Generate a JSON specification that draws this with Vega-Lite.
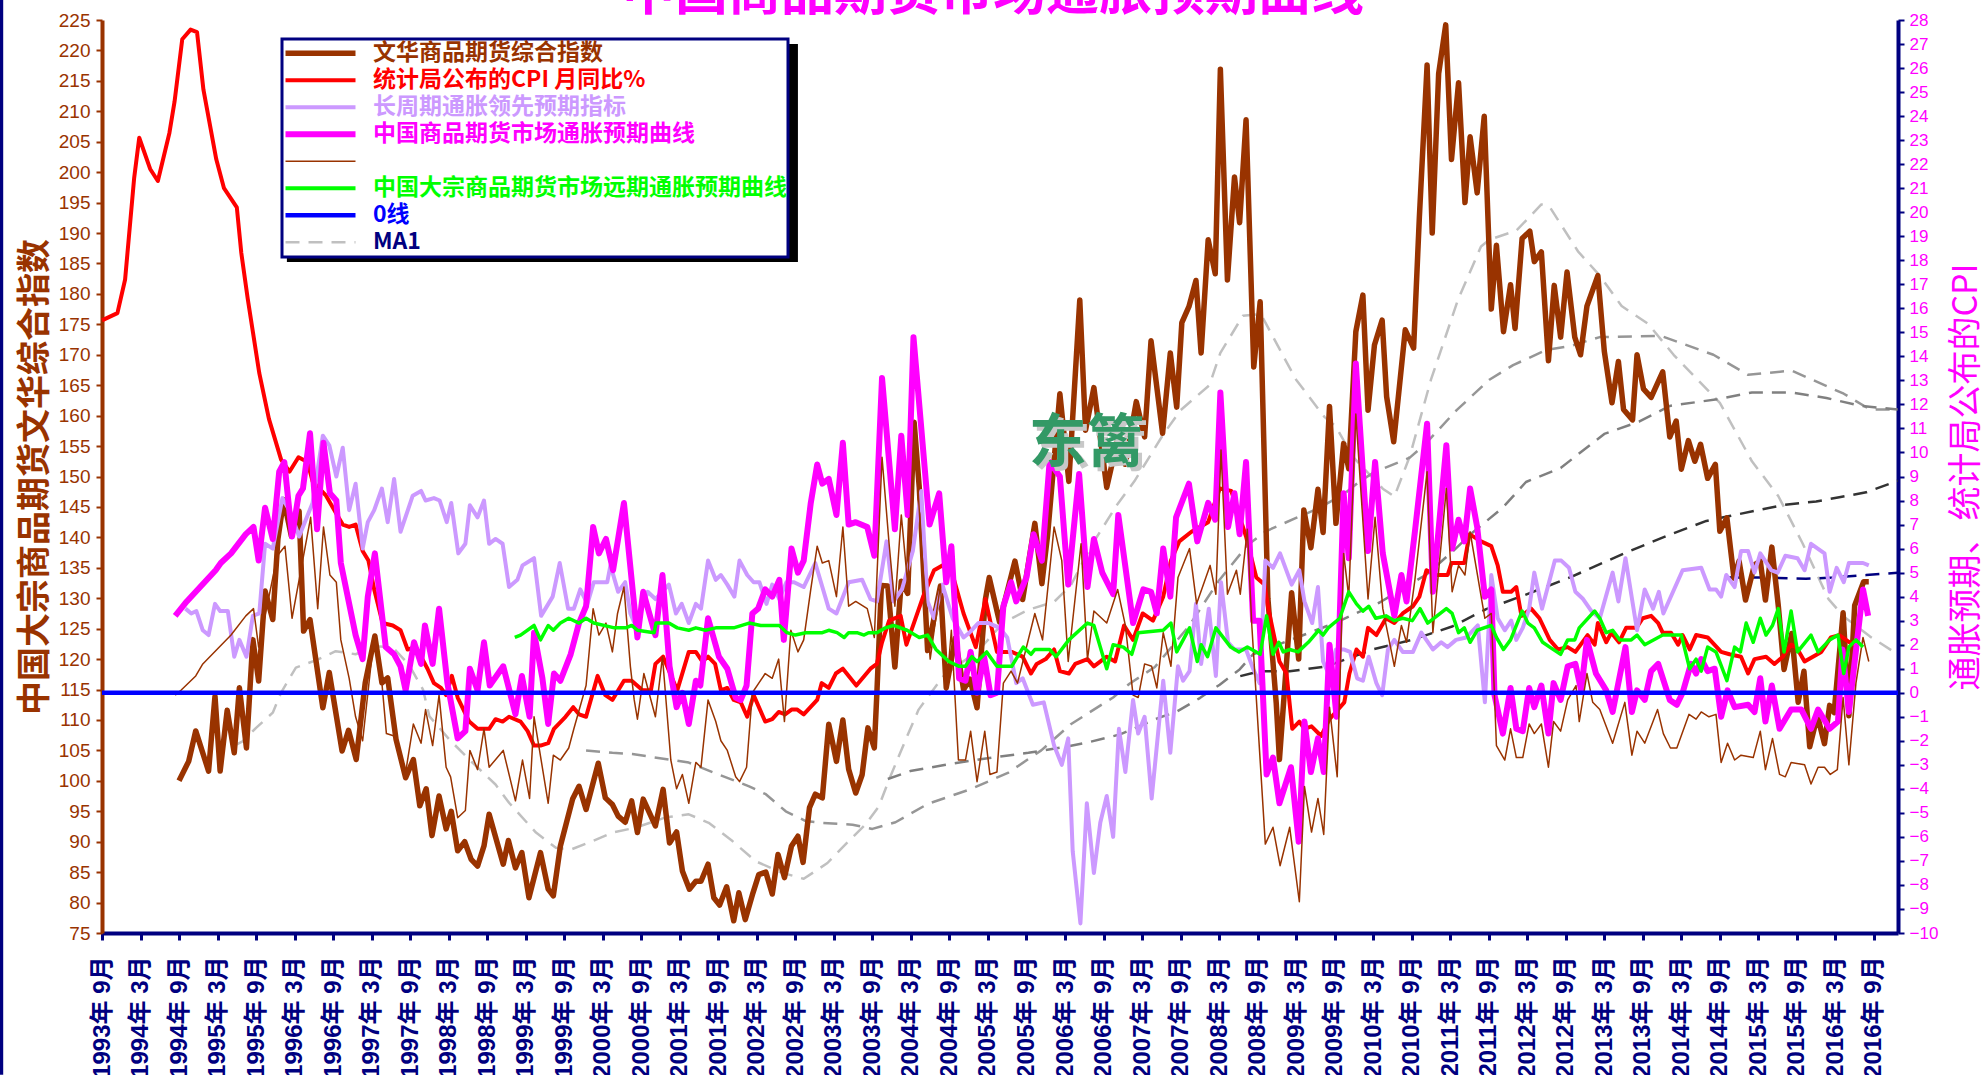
{"$schema":"https://vega.github.io/schema/vega-lite/v6.json","width":1796,"height":913,"autosize":{"type":"none"},"padding":{"left":102,"top":20,"right":85,"bottom":142},"background":"white","config":{"view":{"stroke":null},"legend":{"zindex":2},"line":{"strokeJoin":"round"}},"resolve":{"scale":{"y":"independent"}},"encoding":{"x":{"field":"m","type":"quantitative","scale":{"domain":[0,279.75],"nice":false,"zero":false},"axis":{"values":[0,6,12,18,24,30,36,42,48,54,60,66,72,78,84,90,96,102,108,114,120,126,132,138,144,150,156,162,168,174,180,186,192,198,204,210,216,222,228,234,240,246,252,258,264,270,276],"labelExpr":"(1993+floor((datum.value+6)/12))+'年 '+((datum.value%12==0)?'9':'3')+'月'","labelAngle":270,"labelAlign":"right","labelBaseline":"middle","labelFont":"Liberation Sans, Noto Sans CJK SC","labelFontWeight":"bold","labelFontSize":24,"labelColor":"#000080","labelPadding":16,"labelOverlap":false,"labelBound":false,"labelFlush":false,"title":null,"grid":false,"domainColor":"#000080","domainWidth":4,"tickColor":"#000080","tickWidth":3,"tickSize":7}}},"layer":[{"encoding":{"y":{"field":"v","type":"quantitative","scale":{"domain":[75,225],"nice":false,"zero":false},"axis":{"orient":"left","values":[75,80,85,90,95,100,105,110,115,120,125,130,135,140,145,150,155,160,165,170,175,180,185,190,195,200,205,210,215,220,225],"labelFont":"Liberation Sans Narrow, Liberation Sans","labelFontSize":19,"labelColor":"#993300","labelPadding":6,"labelOverlap":false,"labelBound":false,"labelFlush":false,"grid":false,"domainColor":"#993300","domainWidth":4,"tickColor":"#993300","tickWidth":2,"tickSize":6,"title":"中国大宗商品期货文华综合指数","titleColor":"#993300","titleFont":"Noto Sans CJK SC","titleFontWeight":"bold","titleFontSize":34,"titlePadding":6}}},"layer":[{"data":{"values":[{"m":138.8,"v":226.64,"t":"中国商品期货市场通胀预期曲线"}]},"mark":{"type":"text","color":"#FF00FF","font":"Noto Sans CJK SC","fontWeight":"bold","fontSize":53,"align":"center","baseline":"alphabetic","clip":false},"encoding":{"text":{"field":"t"}}},{"data":{"values":[{"m":-15.7,"v":228.3,"e":51.7}]},"mark":{"type":"rule","color":"#000080","strokeWidth":4,"clip":false},"encoding":{"y2":{"field":"e"}}},{"data":{"values":[{"m":28.8,"e":108.4,"v":221.06,"f":185.24}]},"mark":{"type":"rect","color":"#000000"},"encoding":{"x2":{"field":"e"},"y2":{"field":"f"}}},{"data":{"values":[{"m":20.6,"v":105.8},{"m":21.9,"v":106.5},{"m":24,"v":108.7},{"m":26.6,"v":111.2},{"m":27.9,"v":114.5},{"m":30.2,"v":118.6},{"m":33.3,"v":119.8},{"m":36.4,"v":121.3},{"m":39.5,"v":120.8},{"m":42.7,"v":122.1},{"m":45.3,"v":121.9},{"m":47.8,"v":119.1},{"m":50,"v":115},{"m":51,"v":110.6},{"m":54.1,"v":106.8},{"m":57.2,"v":103.5},{"m":61.3,"v":99.4},{"m":63.4,"v":96.4},{"m":67.6,"v":91.5},{"m":70.7,"v":89},{"m":73,"v":88.7},{"m":76.4,"v":90.1},{"m":79.5,"v":91.5},{"m":83.1,"v":92.3},{"m":87.8,"v":94},{"m":91.4,"v":94.5},{"m":94.5,"v":93.1},{"m":98.2,"v":90.1},{"m":101.8,"v":86.8},{"m":105.9,"v":84.9},{"m":109.3,"v":83.9},{"m":113,"v":86.5},{"m":116.3,"v":90.1},{"m":118.9,"v":92.8},{"m":121,"v":95.8},{"m":122.6,"v":100.2},{"m":125.2,"v":106.8},{"m":127.2,"v":111.7},{"m":131.2,"v":117.4},{"m":136.5,"v":121.4},{"m":140.4,"v":126},{"m":144.3,"v":128.1},{"m":148.3,"v":129.4},{"m":150.9,"v":132.1},{"m":154.2,"v":138.8},{"m":158.2,"v":145.5},{"m":160.8,"v":149.2},{"m":165.3,"v":156.9},{"m":168,"v":160.9},{"m":172.5,"v":165},{"m":174.2,"v":170.3},{"m":177.7,"v":176.4},{"m":180.5,"v":176.7},{"m":184.4,"v":169},{"m":186,"v":165.9},{"m":190.4,"v":159.8},{"m":192.2,"v":158.2},{"m":194.8,"v":153.3},{"m":199.5,"v":148},{"m":201.3,"v":146.7},{"m":203.7,"v":153.3},{"m":207,"v":165.9},{"m":211.2,"v":179},{"m":214.8,"v":187.8},{"m":216.1,"v":188.9},{"m":220.3,"v":190.4},{"m":224.2,"v":194.7},{"m":225.5,"v":194.3},{"m":229.9,"v":187},{"m":233.3,"v":183},{"m":236.7,"v":178},{"m":240.8,"v":175.1},{"m":244.8,"v":170},{"m":248.9,"v":165.5},{"m":252,"v":162.1},{"m":257,"v":152.5},{"m":261.1,"v":146.8},{"m":264.9,"v":139},{"m":268.9,"v":129.9},{"m":271.3,"v":127},{"m":275.4,"v":123.7},{"m":279.7,"v":120.8}]},"mark":{"type":"line","strokeWidth":2.5,"strokeDash":[14,9]},"encoding":{"color":{"datum":"MA1","type":"nominal","scale":{"domain":["文华商品期货综合指数","统计局公布的CPI 月同比%","长周期通胀领先预期指标","中国商品期货市场通胀预期曲线","无名称","中国大宗商品期货市场远期通胀预期曲线","0线","MA1"],"range":["#993300","#FF0000","#CC99FF","#FF00FF","#993300","#00FF00","#0000FF","#C0C0C0"]},"legend":{"orient":"none","legendX":180,"legendY":19,"title":null,"fillColor":"white","strokeColor":"#000080","padding":1,"symbolOffset":26,"symbolType":"stroke","symbolSize":4900,"clipHeight":26.5,"rowPadding":0,"labelFont":"Noto Sans CJK SC","labelFontWeight":"bold","labelFontSize":23,"labelOffset":41,"labelLimit":600,"labelExpr":"datum.value=='无名称'?'':datum.value","labelColor":{"expr":"datum.value=='文华商品期货综合指数'?'#993300':datum.value=='统计局公布的CPI 月同比%'?'#FF0000':datum.value=='长周期通胀领先预期指标'?'#CC99FF':datum.value=='中国商品期货市场通胀预期曲线'?'#FF00FF':datum.value=='中国大宗商品期货市场远期通胀预期曲线'?'#00FF00':datum.value=='0线'?'#0000FF':'#000080'"},"encoding":{"legend":{"strokeWidth":{"value":3}},"symbols":{"strokeWidth":{"value":{"expr":"datum.value=='文华商品期货综合指数'?5.5:datum.value=='中国商品期货市场通胀预期曲线'?6:datum.value=='无名称'?1.5:datum.value=='MA1'?2.5:datum.value=='0线'?4.5:4"}},"strokeDash":{"value":{"expr":"datum.value=='MA1'?[14,9]:[1,0]"}}}}}}}},{"data":{"values":[{"m":75.4,"v":105},{"m":79.5,"v":104.6},{"m":82.6,"v":104.4},{"m":88.3,"v":103.5},{"m":91.4,"v":103},{"m":96.1,"v":101},{"m":100.8,"v":99.1},{"m":103.4,"v":97.8},{"m":106.5,"v":95},{"m":109.6,"v":93.4},{"m":112.2,"v":93.1},{"m":116.9,"v":92.8},{"m":120,"v":92.1},{"m":123.6,"v":93.2},{"m":128.6,"v":96.2},{"m":135.2,"v":98.6},{"m":141.1,"v":101.3},{"m":146.3,"v":105},{"m":150.9,"v":109.3},{"m":157.5,"v":113.7},{"m":160.1,"v":116},{"m":164,"v":118.7},{"m":169.3,"v":125.4},{"m":173.9,"v":132.8},{"m":178.5,"v":138.8},{"m":181.3,"v":141},{"m":186,"v":143.2},{"m":189.1,"v":144.6},{"m":193.3,"v":147},{"m":195.9,"v":149.2},{"m":198,"v":150.6},{"m":203.7,"v":153.1},{"m":206,"v":155.2},{"m":211,"v":160.9},{"m":216.1,"v":165.9},{"m":219.8,"v":168.3},{"m":225,"v":170.8},{"m":228.6,"v":171.4},{"m":233.3,"v":172.9},{"m":242.8,"v":173.1},{"m":251,"v":170},{"m":256.4,"v":166.7},{"m":263.2,"v":167.4},{"m":271.3,"v":163.6},{"m":275.4,"v":161},{"m":279.7,"v":161}]},"mark":{"type":"line","color":"#969696","strokeWidth":2.5,"strokeDash":[14,9]}},{"data":{"values":[{"m":122.4,"v":100.3},{"m":125.9,"v":101.6},{"m":131.2,"v":102.6},{"m":137.1,"v":103.6},{"m":144.3,"v":104.6},{"m":150.2,"v":105.6},{"m":153.5,"v":106.3},{"m":158.5,"v":107.6},{"m":164.7,"v":110.4},{"m":167.3,"v":111.3},{"m":171,"v":113.6},{"m":174.1,"v":115.8},{"m":177.2,"v":118.3},{"m":179.3,"v":120.8},{"m":192.2,"v":126},{"m":199,"v":129.3},{"m":206.3,"v":133.9},{"m":210.4,"v":137.7},{"m":213.5,"v":140.8},{"m":218.2,"v":144.9},{"m":221.8,"v":149.1},{"m":227.2,"v":151.4},{"m":234,"v":157},{"m":239.4,"v":159},{"m":244.2,"v":161.6},{"m":251.6,"v":162.7},{"m":257,"v":163.8},{"m":263.2,"v":163.8},{"m":268.6,"v":162.9},{"m":274,"v":161.6},{"m":279.7,"v":161}]},"mark":{"type":"line","color":"#808080","strokeWidth":2.5,"strokeDash":[14,9]}},{"data":{"values":[{"m":177.3,"v":117.2},{"m":180.3,"v":118},{"m":185,"v":118},{"m":190.7,"v":118.8},{"m":198,"v":121.6},{"m":204.2,"v":123.2},{"m":210.4,"v":125.4},{"m":215.6,"v":128.2},{"m":221.8,"v":130.6},{"m":228.6,"v":133.4},{"m":237.4,"v":137.5},{"m":243.6,"v":140.2},{"m":249.9,"v":142.7},{"m":253.5,"v":143.5},{"m":261.8,"v":145.3},{"m":267,"v":145.9},{"m":270.6,"v":146.6},{"m":274.8,"v":147.4},{"m":279.7,"v":149.3}]},"mark":{"type":"line","color":"#333333","strokeWidth":2.5,"strokeDash":[14,9]}},{"data":{"values":[{"m":253.2,"v":133.4},{"m":259.2,"v":133.4},{"m":265.4,"v":133.2},{"m":269.6,"v":133.4},{"m":274.8,"v":133.8},{"m":279.7,"v":134.2}]},"mark":{"type":"line","color":"#000080","strokeWidth":2.5,"strokeDash":[14,9]}},{"data":{"values":[{"m":12,"v":100},{"m":13.5,"v":103.2},{"m":14.6,"v":108.2},{"m":16.6,"v":101.6},{"m":17.6,"v":113.9},{"m":18.4,"v":101.6},{"m":19.5,"v":111.6},{"m":20.6,"v":104.6},{"m":21.4,"v":115.3},{"m":22.5,"v":105.4},{"m":23.5,"v":123.2},{"m":24.4,"v":116.4},{"m":25.4,"v":131.2},{"m":26.6,"v":126.5},{"m":27.4,"v":139.7},{"m":28.3,"v":146.2},{"m":29.5,"v":140.2},{"m":30.7,"v":144.3},{"m":31.4,"v":124.6},{"m":32.4,"v":126.5},{"m":34.4,"v":112},{"m":35.4,"v":117.8},{"m":37.4,"v":104.9},{"m":38.4,"v":108.3},{"m":39.6,"v":103.5},{"m":41,"v":116.1},{"m":42.5,"v":123.8},{"m":43.6,"v":116.1},{"m":44.5,"v":116.9},{"m":45.8,"v":106.8},{"m":47.3,"v":100.5},{"m":48.5,"v":103.5},{"m":49.5,"v":95.9},{"m":50.5,"v":98.7},{"m":51.4,"v":91},{"m":52.5,"v":97.5},{"m":53.6,"v":92.1},{"m":54.4,"v":95},{"m":55.4,"v":88.5},{"m":56.5,"v":90},{"m":57.5,"v":87.1},{"m":58.5,"v":86},{"m":59.5,"v":89.3},{"m":60.3,"v":94.5},{"m":62.5,"v":86.3},{"m":63.3,"v":90.2},{"m":64.4,"v":85.7},{"m":65.4,"v":88.2},{"m":66.5,"v":80.8},{"m":68.3,"v":88.2},{"m":69.5,"v":82.2},{"m":70.3,"v":81.1},{"m":71.4,"v":89.3},{"m":73.3,"v":97},{"m":74.3,"v":99.1},{"m":75.4,"v":95.3},{"m":77.3,"v":102.9},{"m":78.4,"v":97.2},{"m":79.5,"v":96.1},{"m":80.4,"v":94.2},{"m":81.5,"v":93.2},{"m":82.5,"v":96.7},{"m":83.4,"v":91.5},{"m":84.3,"v":97},{"m":86.2,"v":92.6},{"m":87.4,"v":98.6},{"m":88.4,"v":89.8},{"m":89.5,"v":91.6},{"m":90.4,"v":85.2},{"m":91.5,"v":82.2},{"m":92.5,"v":83.5},{"m":93.3,"v":83.5},{"m":94.4,"v":86.3},{"m":95.3,"v":80.8},{"m":96.2,"v":79.6},{"m":97.3,"v":82.6},{"m":98.4,"v":77},{"m":99.2,"v":81.6},{"m":100.2,"v":77.2},{"m":101.4,"v":81.6},{"m":102.3,"v":84.6},{"m":103.4,"v":85},{"m":104.4,"v":81.4},{"m":105.3,"v":87.9},{"m":106.3,"v":84.1},{"m":107.4,"v":89.3},{"m":108.4,"v":90.9},{"m":109.2,"v":86.6},{"m":110.2,"v":95.6},{"m":111.1,"v":97.8},{"m":112.2,"v":97.2},{"m":113.2,"v":109.3},{"m":114.4,"v":103.2},{"m":115.4,"v":110},{"m":116.3,"v":101.9},{"m":117.4,"v":98},{"m":118.4,"v":101},{"m":119.3,"v":108.7},{"m":120.3,"v":105.4},{"m":120.7,"v":114.5},{"m":121.4,"v":132.1},{"m":122.4,"v":132},{"m":123.5,"v":118.7},{"m":124.5,"v":132.8},{"m":125.5,"v":130.8},{"m":126.5,"v":158.9},{"m":127.3,"v":148.2},{"m":128.6,"v":121.4},{"m":130.6,"v":132},{"m":131.5,"v":115.3},{"m":132.9,"v":123.4},{"m":134.2,"v":115},{"m":135.2,"v":116.7},{"m":136.3,"v":112},{"m":137.6,"v":129.8},{"m":138.2,"v":133.4},{"m":139.8,"v":126.1},{"m":142.2,"v":136.1},{"m":143.4,"v":129.8},{"m":145.3,"v":142.3},{"m":146.4,"v":132.4},{"m":147.3,"v":140.5},{"m":149.2,"v":163.6},{"m":150.6,"v":149.2},{"m":152.3,"v":179},{"m":153.2,"v":157.6},{"m":154.5,"v":164.6},{"m":156.5,"v":148.2},{"m":158.4,"v":157},{"m":159.4,"v":152},{"m":161.1,"v":162.3},{"m":162.4,"v":156.5},{"m":163.4,"v":172.3},{"m":165.2,"v":157.1},{"m":166.4,"v":170.3},{"m":167.4,"v":161.4},{"m":168.2,"v":175.3},{"m":169.3,"v":177.9},{"m":170.4,"v":182.2},{"m":171.2,"v":170.3},{"m":172.3,"v":188.9},{"m":173.4,"v":183.3},{"m":174.2,"v":216.9},{"m":175.3,"v":182.3},{"m":176.4,"v":199.2},{"m":177.2,"v":191.7},{"m":178.2,"v":208.6},{"m":179.4,"v":168},{"m":180.4,"v":178.7},{"m":181.6,"v":130},{"m":182.9,"v":112.8},{"m":183.4,"v":103.5},{"m":185.3,"v":130.9},{"m":186.4,"v":120},{"m":187.2,"v":144.5},{"m":188.3,"v":138.3},{"m":189.4,"v":147.9},{"m":190.2,"v":140.8},{"m":191.2,"v":161.5},{"m":192.2,"v":142.3},{"m":193.4,"v":155.4},{"m":194.2,"v":151.3},{"m":195.3,"v":173.8},{"m":196.4,"v":179.8},{"m":197.2,"v":160.9},{"m":198.2,"v":171.6},{"m":199.4,"v":175.7},{"m":200.1,"v":163.1},{"m":201.2,"v":155.7},{"m":203,"v":174.1},{"m":204.3,"v":171.1},{"m":205.2,"v":192.7},{"m":206.4,"v":217.6},{"m":207.2,"v":190},{"m":208.2,"v":216.2},{"m":209.3,"v":224.2},{"m":210.2,"v":202.1},{"m":211.3,"v":214.7},{"m":212.3,"v":195},{"m":213.1,"v":205.8},{"m":214.2,"v":196.6},{"m":215.3,"v":209.2},{"m":216.4,"v":177.5},{"m":217.2,"v":188},{"m":218.3,"v":173.8},{"m":219.4,"v":181.5},{"m":220.1,"v":174.3},{"m":221.2,"v":189.1},{"m":222.4,"v":190.3},{"m":223.1,"v":185.3},{"m":224.2,"v":186.9},{"m":225.3,"v":169},{"m":226.2,"v":181.4},{"m":227.2,"v":172.9},{"m":228.2,"v":183.6},{"m":229.4,"v":172.9},{"m":230.3,"v":170},{"m":231.3,"v":178},{"m":233,"v":183},{"m":234,"v":170.6},{"m":235.2,"v":162.1},{"m":236.2,"v":168.9},{"m":237,"v":161},{"m":238.4,"v":159.3},{"m":239.1,"v":170},{"m":240.1,"v":164.4},{"m":241.3,"v":163},{"m":243.1,"v":167.2},{"m":244.2,"v":156.5},{"m":245.2,"v":159.1},{"m":246,"v":151.2},{"m":247.1,"v":155.9},{"m":248.1,"v":152.5},{"m":249,"v":155.3},{"m":250.1,"v":149.7},{"m":251.3,"v":152},{"m":252,"v":141},{"m":253.1,"v":143.2},{"m":254.2,"v":133.3},{"m":255,"v":136.1},{"m":256,"v":129.7},{"m":257.4,"v":135.5},{"m":258.3,"v":136.1},{"m":259.1,"v":129.7},{"m":260.1,"v":138.4},{"m":261.1,"v":128.8},{"m":262,"v":118.3},{"m":263.2,"v":124.2},{"m":264.2,"v":112.9},{"m":265.1,"v":118},{"m":266,"v":105.6},{"m":267.2,"v":110.7},{"m":268.3,"v":106.1},{"m":269.1,"v":112.4},{"m":269.8,"v":111.2},{"m":271.2,"v":127.6},{"m":272.1,"v":110.7},{"m":273,"v":128.8},{"m":274.4,"v":132.7},{"m":275.2,"v":132.7}]},"mark":{"type":"line","strokeWidth":5.5},"encoding":{"color":{"datum":"文华商品期货综合指数","type":"nominal"}}}]},{"encoding":{"y":{"field":"v","type":"quantitative","scale":{"domain":[-10,28],"nice":false,"zero":false},"axis":{"orient":"right","values":[-10,-9,-8,-7,-6,-5,-4,-3,-2,-1,0,1,2,3,4,5,6,7,8,9,10,11,12,13,14,15,16,17,18,19,20,21,22,23,24,25,26,27,28],"labelFont":"Liberation Sans","labelFontSize":17,"labelColor":"#FF00FF","labelPadding":5,"labelOverlap":false,"labelBound":false,"labelFlush":false,"grid":false,"domainColor":"#000080","domainWidth":4,"tickColor":"#000080","tickWidth":2,"tickSize":6,"title":"通胀预期、统计局公布的CPI","titleColor":"#FF00FF","titleFont":"Noto Sans CJK SC","titleFontWeight":"normal","titleFontSize":34,"titlePadding":46,"titleAngle":270}}},"layer":[{"data":{"values":[{"m":0,"v":15.5},{"m":2.4,"v":15.8},{"m":3.6,"v":17.2},{"m":5,"v":21.4},{"m":5.8,"v":23.1},{"m":7.5,"v":21.8},{"m":8.7,"v":21.3},{"m":10.5,"v":23.3},{"m":11.3,"v":24.6},{"m":12.5,"v":27.2},{"m":13.8,"v":27.6},{"m":14.8,"v":27.5},{"m":15.8,"v":25.1},{"m":17.8,"v":22.2},{"m":19,"v":21},{"m":21,"v":20.2},{"m":21.7,"v":18.3},{"m":22.7,"v":16.4},{"m":24.5,"v":13.3},{"m":26,"v":11.4},{"m":27.9,"v":9.7},{"m":29.2,"v":9.2},{"m":30.6,"v":9.8},{"m":32,"v":9.6},{"m":32.8,"v":8.8},{"m":34.9,"v":8.2},{"m":36.4,"v":7.5},{"m":37.5,"v":7},{"m":38.5,"v":6.9},{"m":39.5,"v":7},{"m":40.6,"v":5.9},{"m":41.5,"v":5.5},{"m":42.4,"v":4.3},{"m":43.7,"v":2.9},{"m":45.3,"v":2.8},{"m":46.5,"v":2.6},{"m":47.6,"v":1.8},{"m":48.9,"v":1.9},{"m":50.7,"v":1},{"m":51.7,"v":0.4},{"m":52.8,"v":0.2},{"m":53.6,"v":-0.1},{"m":54.5,"v":0.7},{"m":55.4,"v":-0.2},{"m":57.2,"v":-1.2},{"m":58.5,"v":-1.5},{"m":60.3,"v":-1.5},{"m":61.3,"v":-1.1},{"m":62.4,"v":-1.2},{"m":63.4,"v":-1},{"m":65.2,"v":-1.2},{"m":66.3,"v":-1.6},{"m":67.3,"v":-2.2},{"m":68.3,"v":-2.2},{"m":69.5,"v":-2.1},{"m":70.4,"v":-1.5},{"m":72.2,"v":-1},{"m":73.4,"v":-0.6},{"m":74.3,"v":-0.9},{"m":75.4,"v":-1},{"m":77.2,"v":0.7},{"m":78.4,"v":-0.1},{"m":79.5,"v":-0.3},{"m":81.3,"v":0.5},{"m":82.5,"v":0.5},{"m":84.2,"v":0.1},{"m":85.5,"v":0.1},{"m":86.2,"v":1.2},{"m":87.4,"v":1.5},{"m":89.6,"v":0.1},{"m":91.4,"v":1.7},{"m":92.5,"v":1.7},{"m":93.5,"v":1.3},{"m":94.4,"v":1.5},{"m":95.5,"v":1.2},{"m":96.4,"v":0.1},{"m":97.4,"v":0.2},{"m":98.4,"v":-0.3},{"m":99.5,"v":-0.4},{"m":100.5,"v":-1},{"m":101.5,"v":-0.1},{"m":103.3,"v":-1.2},{"m":104.4,"v":-1.1},{"m":105.4,"v":-0.8},{"m":106.4,"v":-0.9},{"m":107.4,"v":-0.7},{"m":108.3,"v":-0.7},{"m":109.3,"v":-0.9},{"m":111.4,"v":-0.3},{"m":112.1,"v":0.4},{"m":113.2,"v":0.2},{"m":114.3,"v":0.8},{"m":115.4,"v":1},{"m":117.5,"v":0.3},{"m":119.7,"v":1},{"m":120.7,"v":1.2},{"m":121.5,"v":2.1},{"m":122.6,"v":3},{"m":124.4,"v":3.2},{"m":125.3,"v":2},{"m":127.9,"v":4},{"m":129.6,"v":5.1},{"m":130.9,"v":5.3},{"m":132.4,"v":5},{"m":134.2,"v":3.3},{"m":136.1,"v":1.9},{"m":137.6,"v":3.9},{"m":139.4,"v":1.7},{"m":141.7,"v":1.7},{"m":143.4,"v":1.5},{"m":144.7,"v":0.8},{"m":145.6,"v":1.2},{"m":147,"v":1.4},{"m":148.3,"v":1.8},{"m":149.2,"v":0.9},{"m":150.6,"v":0.8},{"m":151.6,"v":1.2},{"m":153.5,"v":1.4},{"m":154.5,"v":1.1},{"m":156.5,"v":1.5},{"m":157.8,"v":1.3},{"m":159.2,"v":2.8},{"m":160.6,"v":2.2},{"m":162.1,"v":3.3},{"m":163.7,"v":3},{"m":165.3,"v":4},{"m":166.5,"v":5.5},{"m":167.8,"v":6.3},{"m":169.7,"v":6.7},{"m":172.3,"v":7.1},{"m":174.1,"v":8.5},{"m":175.9,"v":8.4},{"m":178.2,"v":6.5},{"m":179.8,"v":4.8},{"m":181.1,"v":4.5},{"m":181.6,"v":3.6},{"m":183.4,"v":1.3},{"m":184.5,"v":0.8},{"m":185.4,"v":-1.5},{"m":186.5,"v":-1.2},{"m":187.3,"v":-1.5},{"m":188.4,"v":-1.4},{"m":189.9,"v":-1.8},{"m":191.2,"v":-1.1},{"m":192.2,"v":-0.8},{"m":193.5,"v":-0.4},{"m":194.3,"v":0.8},{"m":195.4,"v":1.8},{"m":196.4,"v":1.5},{"m":197.2,"v":2.7},{"m":198.5,"v":2.4},{"m":200,"v":3.1},{"m":201.3,"v":2.9},{"m":202.6,"v":3.3},{"m":204.2,"v":3.6},{"m":205.2,"v":4},{"m":206.3,"v":5.1},{"m":207.8,"v":4.9},{"m":209.6,"v":4.9},{"m":210.2,"v":5.4},{"m":212.2,"v":5.4},{"m":213,"v":6.6},{"m":214.8,"v":6.3},{"m":216.4,"v":6.1},{"m":217.4,"v":5.3},{"m":218.2,"v":4.2},{"m":219.5,"v":4.2},{"m":220.3,"v":4.4},{"m":221.1,"v":3.2},{"m":222.6,"v":3.5},{"m":223.9,"v":3.1},{"m":225.5,"v":2.2},{"m":226.8,"v":1.8},{"m":228.3,"v":1.9},{"m":229.5,"v":1.7},{"m":231.4,"v":2.4},{"m":232.5,"v":2},{"m":233,"v":2.9},{"m":234.3,"v":2.1},{"m":235.1,"v":2.5},{"m":236.3,"v":2.1},{"m":237.4,"v":2.7},{"m":239,"v":2.7},{"m":240,"v":3.1},{"m":241.3,"v":3.2},{"m":242.4,"v":2.9},{"m":243.1,"v":2.5},{"m":244.4,"v":2.5},{"m":245.5,"v":2},{"m":246.2,"v":2.4},{"m":247.3,"v":1.8},{"m":248.3,"v":2.4},{"m":250.1,"v":2.3},{"m":252.2,"v":1.7},{"m":253.5,"v":1.6},{"m":255.3,"v":1.5},{"m":256.4,"v":0.8},{"m":257.4,"v":1.4},{"m":259.2,"v":1.5},{"m":260.5,"v":1.2},{"m":261.8,"v":1.5},{"m":263.1,"v":2},{"m":263.9,"v":1.9},{"m":265.2,"v":1.3},{"m":267.8,"v":1.7},{"m":269.3,"v":2.3},{"m":270.6,"v":2.4},{"m":272.2,"v":2.1},{"m":273,"v":2}]},"mark":{"type":"line","strokeWidth":4},"encoding":{"color":{"datum":"统计局公布的CPI 月同比%","type":"nominal"}}},{"data":{"values":[{"m":13,"v":3.5},{"m":13.9,"v":3.3},{"m":14.7,"v":3.4},{"m":15.7,"v":2.6},{"m":16.6,"v":2.4},{"m":17.6,"v":3.7},{"m":18.4,"v":3.4},{"m":19.6,"v":3.4},{"m":20.6,"v":1.5},{"m":21.4,"v":2.2},{"m":22.5,"v":1.5},{"m":23.5,"v":3.2},{"m":24.5,"v":3.3},{"m":25.4,"v":6.2},{"m":26.6,"v":6},{"m":28.1,"v":8.1},{"m":29.4,"v":7.5},{"m":30.7,"v":6.5},{"m":32.8,"v":7.9},{"m":34.4,"v":10.7},{"m":35.4,"v":10.3},{"m":36.5,"v":9},{"m":37.5,"v":10.2},{"m":38.5,"v":7.6},{"m":39.5,"v":8.7},{"m":40.6,"v":6},{"m":41.4,"v":7.1},{"m":42.4,"v":7.6},{"m":43.6,"v":8.5},{"m":44.5,"v":7.1},{"m":45.5,"v":8.9},{"m":46.5,"v":6.7},{"m":48.4,"v":8.2},{"m":49.7,"v":8.4},{"m":50.4,"v":8},{"m":51.7,"v":8.1},{"m":52.6,"v":8},{"m":53.7,"v":7.1},{"m":54.4,"v":7.9},{"m":55.5,"v":5.8},{"m":56.6,"v":6.2},{"m":57.3,"v":7.8},{"m":58.5,"v":7.3},{"m":59.5,"v":8},{"m":60.3,"v":6.2},{"m":61.3,"v":6.4},{"m":62.4,"v":6.2},{"m":63.4,"v":4.4},{"m":64.7,"v":4.7},{"m":65.5,"v":5.3},{"m":67.3,"v":5.6},{"m":68.4,"v":3.2},{"m":70.2,"v":4},{"m":71.3,"v":5.4},{"m":72.6,"v":3.5},{"m":73.5,"v":3.5},{"m":74.5,"v":4.3},{"m":75.6,"v":3.7},{"m":76.6,"v":4.6},{"m":78.7,"v":4.6},{"m":79.2,"v":5.3},{"m":80.4,"v":4.2},{"m":81.5,"v":4.6},{"m":82.3,"v":3.3},{"m":83.1,"v":2.8},{"m":85,"v":4.2},{"m":86.2,"v":3.9},{"m":88.3,"v":4.5},{"m":89.4,"v":3.3},{"m":90.3,"v":3.7},{"m":91.4,"v":2.9},{"m":92.5,"v":3.7},{"m":93.3,"v":3.5},{"m":94.4,"v":5.5},{"m":95.6,"v":4.7},{"m":96.4,"v":4.9},{"m":97.4,"v":4.5},{"m":98.5,"v":4},{"m":99.3,"v":5.5},{"m":100.5,"v":4.9},{"m":101.5,"v":4.6},{"m":102.4,"v":4.6},{"m":103.5,"v":3.7},{"m":104.4,"v":4.5},{"m":105.5,"v":3.9},{"m":106.6,"v":4.6},{"m":107.8,"v":4.6},{"m":109.3,"v":4.4},{"m":111.1,"v":5.4},{"m":113.2,"v":3.5},{"m":114.4,"v":3.3},{"m":116.3,"v":4.6},{"m":118.4,"v":4.7},{"m":119.7,"v":3.9},{"m":120.7,"v":3.8},{"m":122.2,"v":6.3},{"m":123.3,"v":3.8},{"m":124.6,"v":4.3},{"m":126.3,"v":5.9},{"m":127.6,"v":8.4},{"m":128.6,"v":3.8},{"m":129.6,"v":3.1},{"m":130.9,"v":4.5},{"m":132.5,"v":3.1},{"m":134.2,"v":2.3},{"m":135.1,"v":2.5},{"m":136.5,"v":2.9},{"m":138.1,"v":2.9},{"m":139.8,"v":2.7},{"m":141,"v":2.3},{"m":142.4,"v":0.4},{"m":143.4,"v":0.6},{"m":145,"v":-0.5},{"m":146.7,"v":-0.4},{"m":148.3,"v":-2.2},{"m":149.5,"v":-3},{"m":150.5,"v":-1.9},{"m":151.2,"v":-6.6},{"m":152.4,"v":-9.6},{"m":153.4,"v":-4.6},{"m":154.5,"v":-7.5},{"m":155.5,"v":-5.4},{"m":156.5,"v":-4.3},{"m":157.5,"v":-6},{"m":158.4,"v":-1.5},{"m":159.4,"v":-3.3},{"m":160.6,"v":-0.3},{"m":161.4,"v":-1.7},{"m":162.4,"v":-1},{"m":163.5,"v":-4.4},{"m":165.3,"v":0.5},{"m":166.4,"v":-2.5},{"m":167.6,"v":1.1},{"m":168.4,"v":0.5},{"m":169.4,"v":0.9},{"m":170.4,"v":3.7},{"m":171.2,"v":1.2},{"m":172.4,"v":3.5},{"m":173.5,"v":0.7},{"m":174.3,"v":4.6},{"m":175.4,"v":2.1},{"m":176.4,"v":1.8},{"m":178.2,"v":1.8},{"m":179.3,"v":1},{"m":180.3,"v":0.4},{"m":181.2,"v":5.5},{"m":182.4,"v":5.2},{"m":183.5,"v":5.8},{"m":185.3,"v":4.5},{"m":186.5,"v":5.1},{"m":187.3,"v":3.8},{"m":188.5,"v":2.9},{"m":189.4,"v":4.4},{"m":190.2,"v":1.3},{"m":191.2,"v":0.7},{"m":192.2,"v":1.8},{"m":193.4,"v":1.8},{"m":194.4,"v":1.7},{"m":195.5,"v":0.6},{"m":196.4,"v":0.5},{"m":197.3,"v":1.5},{"m":198.5,"v":0.4},{"m":199.4,"v":-0.1},{"m":200.3,"v":1.8},{"m":201.3,"v":2.2},{"m":202.6,"v":1.7},{"m":204.2,"v":1.7},{"m":205.5,"v":2.5},{"m":207.3,"v":1.8},{"m":208.6,"v":2.1},{"m":209.6,"v":1.9},{"m":210.9,"v":2.2},{"m":212.5,"v":2.3},{"m":214.3,"v":2.8},{"m":215.4,"v":-0.4},{"m":216.4,"v":4.9},{"m":217.4,"v":3.1},{"m":218.5,"v":2.6},{"m":219.5,"v":3},{"m":220.3,"v":2.2},{"m":221.3,"v":2.7},{"m":222.3,"v":3.5},{"m":223.1,"v":5},{"m":224.3,"v":3.5},{"m":226.3,"v":5.5},{"m":227.3,"v":5.5},{"m":228.5,"v":5.2},{"m":229.5,"v":4.2},{"m":230.7,"v":3.9},{"m":232,"v":3.4},{"m":233.3,"v":3.1},{"m":235.3,"v":5},{"m":236.2,"v":3.8},{"m":237.3,"v":5.6},{"m":239.1,"v":2.6},{"m":240.3,"v":4.3},{"m":241.6,"v":3.5},{"m":242.5,"v":4.2},{"m":243.2,"v":3.3},{"m":246.2,"v":5.1},{"m":249.1,"v":5.2},{"m":250.4,"v":4.3},{"m":251.4,"v":4.3},{"m":252.2,"v":4},{"m":253,"v":4.9},{"m":254.3,"v":4.4},{"m":255.3,"v":5.9},{"m":256.4,"v":5.9},{"m":257.4,"v":5},{"m":258.3,"v":5.8},{"m":260,"v":5.1},{"m":261,"v":5},{"m":262.2,"v":5.7},{"m":264.1,"v":5.6},{"m":265.2,"v":5.1},{"m":266.2,"v":6.2},{"m":268.3,"v":5.8},{"m":269.1,"v":4.2},{"m":270.2,"v":5.2},{"m":271.3,"v":4.6},{"m":272.1,"v":5.4},{"m":274.3,"v":5.4},{"m":275.2,"v":5.3}]},"mark":{"type":"line","strokeWidth":4},"encoding":{"color":{"datum":"长周期通胀领先预期指标","type":"nominal"}}},{"data":{"values":[{"m":11.4,"v":3.2},{"m":13.2,"v":3.8},{"m":17.7,"v":5.1},{"m":18.5,"v":5.4},{"m":20.1,"v":5.8},{"m":22.4,"v":6.6},{"m":23.6,"v":6.9},{"m":24.4,"v":5.5},{"m":25.4,"v":7.7},{"m":26.6,"v":6.4},{"m":27.6,"v":9.2},{"m":28.4,"v":9.6},{"m":29.6,"v":6.5},{"m":30.6,"v":8.2},{"m":31.3,"v":8.5},{"m":32.4,"v":10.8},{"m":33.5,"v":6.8},{"m":34.5,"v":10.4},{"m":35.5,"v":8.3},{"m":36.5,"v":8},{"m":37.2,"v":5.4},{"m":39.5,"v":2.4},{"m":40.6,"v":1.4},{"m":41.4,"v":4},{"m":42.5,"v":5.8},{"m":44.2,"v":1.9},{"m":45.5,"v":1.6},{"m":46.5,"v":1.1},{"m":47.3,"v":0.1},{"m":48.6,"v":2.1},{"m":49.7,"v":1.2},{"m":50.3,"v":2.8},{"m":51.5,"v":1.2},{"m":52.5,"v":3.5},{"m":53.8,"v":0.4},{"m":55.4,"v":-1.9},{"m":56.6,"v":-1.6},{"m":57.3,"v":1},{"m":58.5,"v":0.1},{"m":59.5,"v":2.1},{"m":60.4,"v":0.3},{"m":62.5,"v":1.1},{"m":64.4,"v":-0.9},{"m":65.4,"v":0.7},{"m":66.6,"v":-1},{"m":67.3,"v":2.5},{"m":68.6,"v":0.6},{"m":69.5,"v":-1.3},{"m":70.4,"v":0.8},{"m":71.4,"v":0.5},{"m":73,"v":1.6},{"m":74.3,"v":2.9},{"m":75.4,"v":3.6},{"m":76.5,"v":6.9},{"m":77.4,"v":5.8},{"m":78.5,"v":6.4},{"m":79.6,"v":5.1},{"m":81.3,"v":7.9},{"m":83.4,"v":2.3},{"m":84.3,"v":4.2},{"m":86.2,"v":2.4},{"m":87.3,"v":4.9},{"m":88.4,"v":1.1},{"m":89.5,"v":-0.6},{"m":90.4,"v":0},{"m":91.4,"v":-1.3},{"m":92.5,"v":0.5},{"m":93.2,"v":0.3},{"m":94.4,"v":3.1},{"m":96.1,"v":1.5},{"m":97.4,"v":1},{"m":98.7,"v":-0.2},{"m":99.5,"v":-0.3},{"m":100.4,"v":0.3},{"m":101.3,"v":3.3},{"m":102.2,"v":3.5},{"m":103.3,"v":4.3},{"m":104.4,"v":4},{"m":105.5,"v":4.7},{"m":106.2,"v":2.2},{"m":107.4,"v":6},{"m":108.4,"v":5},{"m":109.3,"v":5.5},{"m":110.4,"v":7.9},{"m":111.4,"v":9.5},{"m":112.2,"v":8.7},{"m":113.2,"v":8.9},{"m":114.4,"v":7.4},{"m":115.4,"v":10.4},{"m":116.3,"v":7},{"m":117.4,"v":7.1},{"m":119.2,"v":6.9},{"m":120.3,"v":5.7},{"m":121.5,"v":13.1},{"m":123.5,"v":6.8},{"m":124.5,"v":10.7},{"m":125.5,"v":7.4},{"m":126.4,"v":14.8},{"m":128.9,"v":7},{"m":130.4,"v":8.3},{"m":131.5,"v":4.6},{"m":132.3,"v":6.1},{"m":133.5,"v":0.6},{"m":134.5,"v":0.5},{"m":135.3,"v":1.7},{"m":136.3,"v":0},{"m":137.4,"v":1.5},{"m":138.4,"v":-0.1},{"m":139.4,"v":0},{"m":140.4,"v":3.6},{"m":141.6,"v":4.6},{"m":142.4,"v":3.8},{"m":144,"v":4.8},{"m":145.1,"v":6.6},{"m":146.4,"v":5.5},{"m":147.6,"v":9.6},{"m":149.2,"v":9},{"m":150.5,"v":4.5},{"m":152.2,"v":9.1},{"m":153.5,"v":4.4},{"m":154.5,"v":6.4},{"m":155.8,"v":5},{"m":157.5,"v":4.1},{"m":158.3,"v":7.4},{"m":160.6,"v":2.9},{"m":162.2,"v":4.3},{"m":163.4,"v":4.2},{"m":164.3,"v":3.3},{"m":165.3,"v":6},{"m":166.4,"v":4},{"m":167.3,"v":7.3},{"m":169.3,"v":8.7},{"m":170.6,"v":6.3},{"m":172.3,"v":7.9},{"m":173.4,"v":7.2},{"m":174.2,"v":12.5},{"m":175.4,"v":6.9},{"m":176.4,"v":8.3},{"m":177.2,"v":6.6},{"m":178.2,"v":9.6},{"m":179.3,"v":3},{"m":180.3,"v":3},{"m":181.4,"v":-3.4},{"m":182.4,"v":-2.7},{"m":183.4,"v":-4.6},{"m":185.2,"v":-3.1},{"m":186.4,"v":-6.2},{"m":187.3,"v":-1.2},{"m":188.3,"v":-3.3},{"m":189.4,"v":-1.9},{"m":190.3,"v":-3.3},{"m":191.2,"v":2},{"m":192.3,"v":-1},{"m":193.4,"v":8.3},{"m":194.2,"v":5.6},{"m":195.3,"v":13.7},{"m":197.2,"v":5.9},{"m":198.3,"v":9.6},{"m":199.5,"v":5.8},{"m":201.3,"v":3.2},{"m":202.4,"v":4.9},{"m":203.2,"v":3.8},{"m":204.5,"v":6.7},{"m":206.4,"v":11.2},{"m":207.3,"v":4.2},{"m":209.4,"v":10.3},{"m":210.3,"v":6},{"m":211.3,"v":7.2},{"m":212.2,"v":6.3},{"m":213.1,"v":8.5},{"m":214.2,"v":6.9},{"m":215.4,"v":4},{"m":216.4,"v":4.3},{"m":216.9,"v":-0.1},{"m":218.2,"v":-1.7},{"m":219.4,"v":0.2},{"m":220.3,"v":-1.5},{"m":221.3,"v":-1.6},{"m":222.3,"v":0.2},{"m":223.1,"v":-0.6},{"m":224.2,"v":0.3},{"m":225.3,"v":-1.7},{"m":226.1,"v":0.4},{"m":227.2,"v":-0.3},{"m":228.3,"v":1.1},{"m":229.5,"v":1.2},{"m":230.4,"v":0.1},{"m":231.3,"v":2.2},{"m":232.7,"v":0.8},{"m":234.3,"v":0.1},{"m":235.3,"v":-0.8},{"m":237.3,"v":1.9},{"m":238.3,"v":-0.8},{"m":239.1,"v":0.1},{"m":240.3,"v":-0.3},{"m":241.3,"v":0.9},{"m":242.4,"v":1.2},{"m":244.2,"v":-0.3},{"m":245.3,"v":-0.5},{"m":246.2,"v":0},{"m":247.5,"v":1.2},{"m":248.3,"v":0.8},{"m":249.1,"v":1.4},{"m":250.1,"v":0.9},{"m":251.2,"v":1},{"m":252.2,"v":-1},{"m":253.2,"v":0.1},{"m":254.3,"v":-0.6},{"m":256.4,"v":-0.5},{"m":257.4,"v":-0.8},{"m":258.3,"v":0.6},{"m":259.1,"v":-1.2},{"m":260.1,"v":0.3},{"m":261.3,"v":-1.5},{"m":263.1,"v":-0.7},{"m":264.7,"v":-0.7},{"m":266.2,"v":-1.5},{"m":267.3,"v":-0.7},{"m":269.1,"v":-1.5},{"m":270.4,"v":-1.2},{"m":271.1,"v":1.8},{"m":272.1,"v":-0.8},{"m":274.3,"v":4.3},{"m":275.1,"v":3.2}]},"mark":{"type":"line","strokeWidth":6},"encoding":{"color":{"datum":"中国商品期货市场通胀预期曲线","type":"nominal"}}},{"data":{"values":[{"m":11.4,"v":-0.1},{"m":12.3,"v":0.1},{"m":14.6,"v":0.7},{"m":15.7,"v":1.2},{"m":20.1,"v":2.4},{"m":22.4,"v":3.2},{"m":23.6,"v":3.5},{"m":24.4,"v":1.9},{"m":27.3,"v":5.7},{"m":28.5,"v":6.1},{"m":29.6,"v":3.1},{"m":30.7,"v":4.7},{"m":32.5,"v":7.3},{"m":33.6,"v":3.5},{"m":34.5,"v":6.9},{"m":35.5,"v":4.9},{"m":36.5,"v":4.6},{"m":37.2,"v":2.2},{"m":38.5,"v":0.6},{"m":39.5,"v":-1},{"m":40.6,"v":-2},{"m":42.4,"v":2.4},{"m":43.6,"v":0.4},{"m":44.3,"v":-1.7},{"m":45.5,"v":-1.8},{"m":47.3,"v":-3.3},{"m":48.5,"v":-1.3},{"m":49.7,"v":-2.1},{"m":50.4,"v":-0.7},{"m":51.5,"v":-2.2},{"m":52.5,"v":-0.1},{"m":53.6,"v":-3.1},{"m":54.3,"v":-3.5},{"m":55.4,"v":-5.2},{"m":56.6,"v":-4.9},{"m":57.3,"v":-2.4},{"m":58.5,"v":-3.2},{"m":59.5,"v":-1.5},{"m":60.3,"v":-3.1},{"m":62.5,"v":-2.4},{"m":64.4,"v":-4.5},{"m":65.5,"v":-2.8},{"m":66.6,"v":-4.4},{"m":67.3,"v":-1},{"m":69.5,"v":-4.6},{"m":70.3,"v":-2.6},{"m":71.4,"v":-2.8},{"m":72.7,"v":-2.3},{"m":73.5,"v":-1.5},{"m":75.4,"v":0.3},{"m":76.5,"v":3.5},{"m":77.4,"v":2.4},{"m":78.5,"v":2.9},{"m":79.5,"v":1.7},{"m":80.3,"v":3.3},{"m":81.3,"v":4.4},{"m":82.3,"v":1.1},{"m":82.9,"v":-0.3},{"m":83.4,"v":-1.1},{"m":84.4,"v":0.8},{"m":86.2,"v":-1},{"m":87.3,"v":1.5},{"m":88.6,"v":-2.8},{"m":89.5,"v":-4},{"m":90.4,"v":-3.4},{"m":91.4,"v":-4.6},{"m":92.5,"v":-2.9},{"m":93.3,"v":-3.1},{"m":94.4,"v":-0.3},{"m":95.6,"v":-1.2},{"m":96.4,"v":-2},{"m":97.4,"v":-2.4},{"m":98.7,"v":-3.5},{"m":99.3,"v":-3.7},{"m":100.4,"v":-3.1},{"m":101.3,"v":0},{"m":102.3,"v":0.4},{"m":103.3,"v":0.8},{"m":104.4,"v":0.6},{"m":105.4,"v":1.4},{"m":106.3,"v":-1.2},{"m":107.3,"v":2.6},{"m":108.4,"v":1.7},{"m":109.3,"v":2.2},{"m":110.4,"v":4.3},{"m":111.4,"v":6.1},{"m":112.2,"v":5.4},{"m":113.2,"v":5.5},{"m":114.4,"v":4},{"m":115.4,"v":6.9},{"m":116.3,"v":3.6},{"m":117.4,"v":3.8},{"m":119.2,"v":3.5},{"m":120.3,"v":2.3},{"m":121.5,"v":9.8},{"m":122.6,"v":6.2},{"m":123.5,"v":3.6},{"m":124.5,"v":7.4},{"m":125.5,"v":4.5},{"m":126.5,"v":11.3},{"m":127.6,"v":6.2},{"m":129,"v":1.4},{"m":130.6,"v":4.5},{"m":131.5,"v":0},{"m":132.3,"v":2.6},{"m":133.4,"v":-2.8},{"m":134.5,"v":-2.8},{"m":135.3,"v":-1.6},{"m":136.3,"v":-3.7},{"m":137.5,"v":-1.6},{"m":138.3,"v":-3.4},{"m":139.4,"v":-3.3},{"m":140.4,"v":0.4},{"m":141.6,"v":0.9},{"m":142.6,"v":0.4},{"m":145.3,"v":3.3},{"m":146.5,"v":2.2},{"m":148.3,"v":6.9},{"m":149.5,"v":5.5},{"m":150.5,"v":1.3},{"m":152.5,"v":6.2},{"m":153.5,"v":1.4},{"m":154.5,"v":3.4},{"m":156.5,"v":2.9},{"m":158.2,"v":4.3},{"m":159.4,"v":2.8},{"m":160.6,"v":-0.1},{"m":161.4,"v":-0.2},{"m":162.4,"v":1.2},{"m":163.5,"v":1.1},{"m":164.3,"v":0.2},{"m":165.3,"v":2.5},{"m":166.5,"v":1.1},{"m":167.6,"v":4.8},{"m":169.4,"v":6},{"m":170.5,"v":3.7},{"m":172.6,"v":5.3},{"m":173.5,"v":4.1},{"m":174.3,"v":10.1},{"m":175.3,"v":4.1},{"m":176.7,"v":5.1},{"m":177.3,"v":4.1},{"m":178.4,"v":6.8},{"m":179.1,"v":2.8},{"m":181.2,"v":-6.3},{"m":182.4,"v":-5.6},{"m":183.5,"v":-7.2},{"m":185,"v":-5.6},{"m":186.5,"v":-8.7},{"m":187.3,"v":-3.9},{"m":188.4,"v":-5.8},{"m":189.4,"v":-4.4},{"m":190.3,"v":-5.9},{"m":191.2,"v":-0.6},{"m":192.4,"v":-3.5},{"m":193.4,"v":5.8},{"m":194.2,"v":4},{"m":195.3,"v":11.6},{"m":197.2,"v":3.9},{"m":198.3,"v":7.3},{"m":199.5,"v":3.5},{"m":201.3,"v":1.1},{"m":202.4,"v":2.8},{"m":203.2,"v":2.1},{"m":204.5,"v":4.7},{"m":206.4,"v":9.2},{"m":207.3,"v":2.5},{"m":209.4,"v":8.5},{"m":210.3,"v":4.2},{"m":211.3,"v":5.3},{"m":212.3,"v":4.9},{"m":213.1,"v":6.7},{"m":215.4,"v":3.1},{"m":216.4,"v":3.3},{"m":217.2,"v":-2.2},{"m":218.5,"v":-2.8},{"m":219.4,"v":-1.5},{"m":220.3,"v":-2.7},{"m":221.3,"v":-2.7},{"m":222.3,"v":-1.3},{"m":223.1,"v":-1.7},{"m":224.2,"v":-1.3},{"m":225.3,"v":-3.1},{"m":226.1,"v":-1.2},{"m":227.2,"v":-1.6},{"m":228.3,"v":-0.3},{"m":229.6,"v":0.3},{"m":230.1,"v":-1.2},{"m":231.3,"v":0.8},{"m":232.2,"v":-0.4},{"m":233.3,"v":-0.7},{"m":235.3,"v":-2.1},{"m":237.2,"v":-0.4},{"m":238.3,"v":-2.6},{"m":239.1,"v":-1.6},{"m":240.3,"v":-2.1},{"m":242.3,"v":-0.7},{"m":243.2,"v":-1.7},{"m":244.3,"v":-2.3},{"m":245.3,"v":-2.3},{"m":247.2,"v":-0.9},{"m":248.3,"v":-1.1},{"m":249.1,"v":-0.8},{"m":250.3,"v":-1},{"m":251.4,"v":-0.9},{"m":252.2,"v":-2.9},{"m":253.2,"v":-2.1},{"m":254.3,"v":-2.8},{"m":255.3,"v":-2.6},{"m":257.2,"v":-2.7},{"m":258.3,"v":-1.6},{"m":259.1,"v":-3.2},{"m":260.2,"v":-1.9},{"m":261.3,"v":-3.4},{"m":262.2,"v":-3.5},{"m":263.1,"v":-2.9},{"m":265.2,"v":-3},{"m":266.2,"v":-3.8},{"m":267.3,"v":-3.1},{"m":268.3,"v":-3.1},{"m":269.2,"v":-3.4},{"m":270.3,"v":-3.2},{"m":271.2,"v":-0.2},{"m":272.1,"v":-3},{"m":273.2,"v":0.4},{"m":274.3,"v":2.3},{"m":275.2,"v":1.3}]},"mark":{"type":"line","strokeWidth":1.5},"encoding":{"color":{"datum":"无名称","type":"nominal"}}},{"data":{"values":[{"m":64.3,"v":2.3},{"m":65.2,"v":2.4},{"m":67.3,"v":2.8},{"m":68.3,"v":2.2},{"m":69.5,"v":2.8},{"m":70.3,"v":2.6},{"m":71.4,"v":2.9},{"m":72.7,"v":3.1},{"m":74.3,"v":2.9},{"m":75.4,"v":3.1},{"m":76.6,"v":2.9},{"m":79.8,"v":2.7},{"m":81.6,"v":2.7},{"m":82.5,"v":2.8},{"m":83.4,"v":2.6},{"m":86,"v":2.5},{"m":86.3,"v":2.9},{"m":88.3,"v":2.9},{"m":89.6,"v":2.7},{"m":91.4,"v":2.6},{"m":92.5,"v":2.7},{"m":94,"v":2.6},{"m":95.6,"v":2.7},{"m":97.7,"v":2.7},{"m":98.4,"v":2.7},{"m":100.8,"v":2.9},{"m":102.6,"v":2.8},{"m":105.5,"v":2.8},{"m":106.7,"v":2.5},{"m":108,"v":2.4},{"m":109.6,"v":2.5},{"m":112.2,"v":2.5},{"m":113.2,"v":2.6},{"m":114.5,"v":2.5},{"m":115.6,"v":2.3},{"m":116.3,"v":2.5},{"m":117.6,"v":2.5},{"m":118.7,"v":2.4},{"m":119.4,"v":2.5},{"m":120.7,"v":2.5},{"m":122,"v":2.7},{"m":123.3,"v":2.8},{"m":125.4,"v":2.6},{"m":127.3,"v":2.3},{"m":128.6,"v":2.4},{"m":129.9,"v":1.8},{"m":131.9,"v":1.3},{"m":133.5,"v":1.1},{"m":134.5,"v":1.1},{"m":135.5,"v":1.5},{"m":136.3,"v":1.3},{"m":137.8,"v":1.7},{"m":139.4,"v":1.1},{"m":141.7,"v":1.1},{"m":143.5,"v":1.9},{"m":144.7,"v":1.6},{"m":145.3,"v":1.8},{"m":147.6,"v":1.8},{"m":148.6,"v":1.5},{"m":150.6,"v":2.2},{"m":153.5,"v":2.9},{"m":154.5,"v":2.8},{"m":156.5,"v":1},{"m":157.5,"v":2},{"m":159.1,"v":1.9},{"m":160.4,"v":1.6},{"m":161.4,"v":2.5},{"m":165.3,"v":2.6},{"m":166.5,"v":2.9},{"m":167.4,"v":1.7},{"m":169.4,"v":2.7},{"m":170.6,"v":1.3},{"m":171.2,"v":2},{"m":172.2,"v":1.5},{"m":173.5,"v":2.7},{"m":175.8,"v":1.9},{"m":177.1,"v":1.7},{"m":178.4,"v":1.9},{"m":180.4,"v":1.6},{"m":181.4,"v":3.2},{"m":182.4,"v":1.6},{"m":183.3,"v":2.1},{"m":184,"v":1.7},{"m":185,"v":1.8},{"m":186.3,"v":1.7},{"m":187.9,"v":2.1},{"m":189.5,"v":2.6},{"m":190.2,"v":2.4},{"m":191,"v":2.7},{"m":192.8,"v":3.1},{"m":194.2,"v":4.2},{"m":195.4,"v":3.7},{"m":196.4,"v":3.4},{"m":197.3,"v":3.6},{"m":198.4,"v":3.1},{"m":200,"v":3.2},{"m":201.3,"v":3},{"m":202.6,"v":3.1},{"m":204.1,"v":3},{"m":205.3,"v":3.5},{"m":206.5,"v":2.9},{"m":209.4,"v":3.5},{"m":210.3,"v":3.3},{"m":211.3,"v":2.5},{"m":212.2,"v":2.7},{"m":213.1,"v":2.1},{"m":214.2,"v":2.6},{"m":216.4,"v":2.8},{"m":217.2,"v":2.3},{"m":218.3,"v":1.8},{"m":219.4,"v":2.2},{"m":221.2,"v":3.4},{"m":222.1,"v":2.9},{"m":223.1,"v":2.7},{"m":224.4,"v":2.1},{"m":225.5,"v":1.9},{"m":227.2,"v":1.6},{"m":228.3,"v":2.2},{"m":229.4,"v":2.2},{"m":230.1,"v":2.7},{"m":232.5,"v":3.4},{"m":233.3,"v":3.1},{"m":234.3,"v":2.5},{"m":235.3,"v":2.6},{"m":236.4,"v":2.2},{"m":238.2,"v":2.2},{"m":239.1,"v":2.4},{"m":240.3,"v":2},{"m":243.1,"v":2.4},{"m":246,"v":2.4},{"m":247.3,"v":1},{"m":248.3,"v":1.4},{"m":249.1,"v":0.9},{"m":250.1,"v":1.9},{"m":251.4,"v":1.7},{"m":253.1,"v":0.5},{"m":254.3,"v":1.9},{"m":255.2,"v":1.7},{"m":256.1,"v":2.9},{"m":257.2,"v":2.1},{"m":258.3,"v":3.1},{"m":259.2,"v":2.4},{"m":260.2,"v":2.8},{"m":261.1,"v":3.5},{"m":262,"v":1.7},{"m":263.1,"v":3.4},{"m":264.1,"v":1.7},{"m":266.2,"v":2.4},{"m":267.3,"v":1.7},{"m":269.1,"v":2.2},{"m":270.4,"v":2.4},{"m":271.3,"v":0.8},{"m":272.1,"v":1.9},{"m":273.2,"v":2.2},{"m":274.3,"v":1.9}]},"mark":{"type":"line","strokeWidth":3.5},"encoding":{"color":{"datum":"中国大宗商品期货市场远期通胀预期曲线","type":"nominal"}}},{"data":{"values":[{"m":0,"v":0},{"m":279.75,"v":0}]},"mark":{"type":"line","strokeWidth":4.5},"encoding":{"color":{"datum":"0线","type":"nominal"}}},{"data":{"values":[{"m":153.4,"v":10.3,"t":"东篱"}]},"mark":{"type":"text","color":"#C8C8C8","font":"Noto Sans CJK SC","fontWeight":"bold","fontSize":58,"dx":4,"dy":4},"encoding":{"text":{"field":"t"}}},{"data":{"values":[{"m":153.4,"v":10.3,"t":"东篱"}]},"mark":{"type":"text","color":"#339966","font":"Noto Sans CJK SC","fontWeight":"bold","fontSize":58},"encoding":{"text":{"field":"t"}}}]}]}
